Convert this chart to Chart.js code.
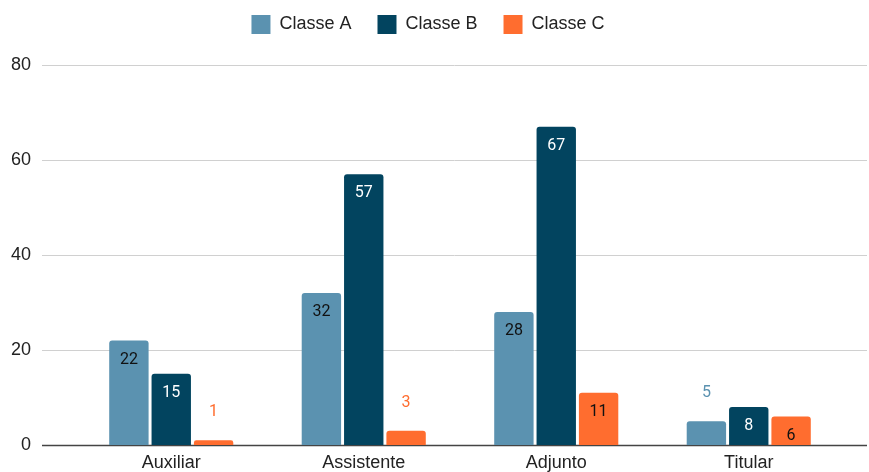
<!DOCTYPE html>
<html>
<head>
<meta charset="utf-8">
<script src="https://cdn.jsdelivr.net/npm/chart.js@4"></script>
<style>
    html, body { margin: 0; padding: 0; background: #fff; overflow: hidden; }
    canvas { display: block; }
</style>
</head>
<body>
<canvas id="classes" width="869" height="472"></canvas>
<script>
const categories = ["Auxiliar", "Assistente", "Adjunto", "Titular"];
const classeA = [22, 32, 28, 5];
const classeB = [15, 57, 67, 8];
const classeC = [1, 3, 11, 6];
const yTicks = [0, 20, 40, 60, 80];

const colors = ["#5b92b0", "#02445f", "#ff6d2f"];
const insideText = ["#111", "#fff", "#111"];

// gridlines across the full width, like the original
const gridPlugin = {
    id: "fullGrid",
    afterLayout(chart) {
        // pull the legend up closer to the top edge
        chart.legend.top -= 21;
        chart.legend.bottom -= 21;
    },
    beforeDatasetsDraw(chart) {
        const ctx = chart.ctx;
        const y = chart.scales.y;
        ctx.save();
        yTicks.forEach(v => {
            const py = Math.round(y.getPixelForValue(v)) + 0.5;
            ctx.strokeStyle = v === 0 ? "#444" : "#d0d0d0";
            ctx.lineWidth = v === 0 ? 1.5 : 1;
            ctx.beginPath();
            ctx.moveTo(42, py);
            ctx.lineTo(867, py);
            ctx.stroke();
        });
        ctx.restore();
    }
};

const labelPlugin = {
    id: "barLabels",
    afterDatasetsDraw(chart) {
        const ctx = chart.ctx;
        ctx.save();
        ctx.font = "16px Roboto";
        ctx.textAlign = "center";
        ctx.textBaseline = "middle";
        chart.data.datasets.forEach((ds, i) => {
            const meta = chart.getDatasetMeta(i);
            meta.data.forEach((bar, j) => {
                const h = bar.base - bar.y;
                if (h > 25) {
                    ctx.fillStyle = insideText[i];
                    ctx.fillText(ds.data[j], bar.x, bar.y + 19);
                } else {
                    ctx.fillStyle = colors[i];
                    ctx.fillText(ds.data[j], bar.x, bar.y - 28);
                }
            });
        });
        ctx.restore();
    }
};

const canvas = document.getElementById("classes");
const chart = new Chart(canvas, {
    type: "bar",
    data: {
        labels: categories,
        datasets: [
            { label: "Classe A", data: classeA, backgroundColor: colors[0] },
            { label: "Classe B", data: classeB, backgroundColor: colors[1] },
            { label: "Classe C", data: classeC, backgroundColor: colors[2] }
        ]
    },
    options: {
        responsive: false,
        animation: false,
        layout: { padding: { left: 11, right: 24, top: 10, bottom: -9 } },
        datasets: {
            bar: {
                categoryPercentage: 0.66,
                barPercentage: 0.93,
                borderRadius: { topLeft: 3, topRight: 3 },
                borderSkipped: "bottom"
            }
        },
        plugins: {
            legend: {
                position: "top",
                labels: {
                    boxWidth: 19,
                    boxHeight: 19,
                    padding: 26,
                    color: "#222",
                    font: { family: "Liberation Sans", size: 18 }
                }
            },
            tooltip: { enabled: false }
        },
        scales: {
            x: {
                grid: { display: false, drawTicks: false },
                border: { display: false },
                ticks: {
                    color: "#222",
                    padding: 9,
                    font: { family: "Liberation Sans", size: 18, lineHeight: 1.0 }
                }
            },
            y: {
                min: 0,
                max: 80,
                grid: { display: false, tickLength: 40 },
                border: { display: false },
                afterFit(scale) { scale.width = 64; },
                ticks: {
                    stepSize: 20,
                    color: "#222",
                    padding: 4,
                    font: { family: "Liberation Sans", size: 18 }
                }
            }
        }
    },
    plugins: [gridPlugin, labelPlugin]
});
</script>
</body>
</html>
